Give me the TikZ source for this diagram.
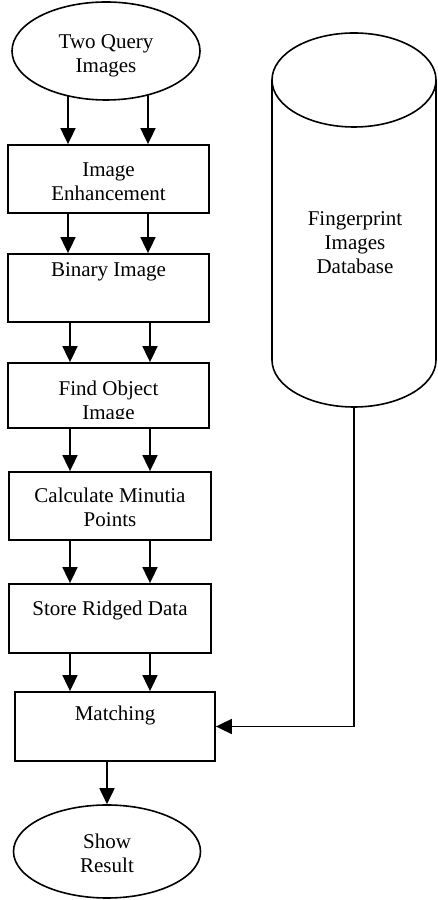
\documentclass[tikz,border=0pt]{standalone}
\usepackage{fontspec}
\setmainfont{Liberation Serif}
\usetikzlibrary{arrows.meta,shapes.geometric,calc}
\tikzset{
  box/.style={draw, line width=1.8pt, rectangle, inner sep=0pt},
  oval/.style={draw, line width=1.6pt, ellipse, inner sep=0pt},
  txt/.style={align=center, inner sep=0pt, font=\fontsize{21}{24}\selectfont},
  arr/.style={line width=1.8pt, -{Triangle[length=16pt,width=15pt]}},
  conn/.style={line width=1.6pt}
}
\begin{document}
\begin{tikzpicture}[x=1pt,y=1pt]
\useasboundingbox (0,0) rectangle (437,900);
% start / end ellipses
\node[oval, minimum width=188pt, minimum height=98pt] (q) at (106,849) {};
\node[txt] (qt) at (106,844) {Two Query\\Images};
\node[oval, minimum width=187pt, minimum height=93pt] (show) at (107,48.5) {};
\node[txt] (showt) at (107,46.5) {Show\\Result};
% boxes
\node[box, minimum width=201pt, minimum height=68pt] (b1) at (108.5,721) {};
\node[txt] (b1t) at (108.5,718.5) {Image\\Enhancement};
\node[box, minimum width=201pt, minimum height=68pt] (b2) at (108.5,612) {};
\node[txt] (b2t) at (108.5,628) {Binary Image};
\node[box, minimum width=201pt, minimum height=65pt] (b3) at (108.5,504.5) {};
\begin{scope}
  \clip ($(b3.south west)+(0,10)$) rectangle (b3.north east);
  \node[txt] (b3t) at (108.5,498) {Find Object\\Image};
\end{scope}
\node[box, minimum width=202pt, minimum height=68pt] (b4) at (110,394) {};
\node[txt] (b4t) at (110,392.5) {Calculate Minutia\\Points};
\node[box, minimum width=202pt, minimum height=69pt] (b5) at (110,281.5) {};
\node[txt] (b5t) at (110,290) {Store Ridged Data};
\node[box, minimum width=200pt, minimum height=69pt] (b6) at (115,173.5) {};
\node[txt] (b6t) at (115,185) {Matching};
% database cylinder
\draw[conn] (272,540) -- (272,820);
\draw[conn] (436,540) -- (436,820);
\draw[conn] (354,820) ellipse [x radius=82, y radius=47];
\draw[conn] (272,540) arc[start angle=180, end angle=360, x radius=82, y radius=47];
\coordinate (dbb) at (354,493);
\node[txt] (dbt) at (355,657) {Fingerprint\\Images\\Database};
% arrows
\draw[arr] ($(q.center)+(-38,-44.8)$) -- (b1.north -| 68,0);
\draw[arr] ($(q.center)+(42,-43.8)$) -- (b1.north -| 148,0);
\draw[arr] (b1.south -| 68,0) -- (b2.north -| 68,0);
\draw[arr] (b1.south -| 148,0) -- (b2.north -| 148,0);
\draw[arr] (b2.south -| 70,0) -- (b3.north -| 70,0);
\draw[arr] (b2.south -| 150,0) -- (b3.north -| 150,0);
\draw[arr] (b3.south -| 70,0) -- (b4.north -| 70,0);
\draw[arr] (b3.south -| 150,0) -- (b4.north -| 150,0);
\draw[arr] (b4.south -| 70,0) -- (b5.north -| 70,0);
\draw[arr] (b4.south -| 150,0) -- (b5.north -| 150,0);
\draw[arr] (b5.south -| 70,0) -- (b6.north -| 70,0);
\draw[arr] (b5.south -| 150,0) -- (b6.north -| 150,0);
\draw[arr] (b6.south -| show.north) -- (show.north);
\draw[arr] (dbb) |- (b6.east);
\end{tikzpicture}
\end{document}
